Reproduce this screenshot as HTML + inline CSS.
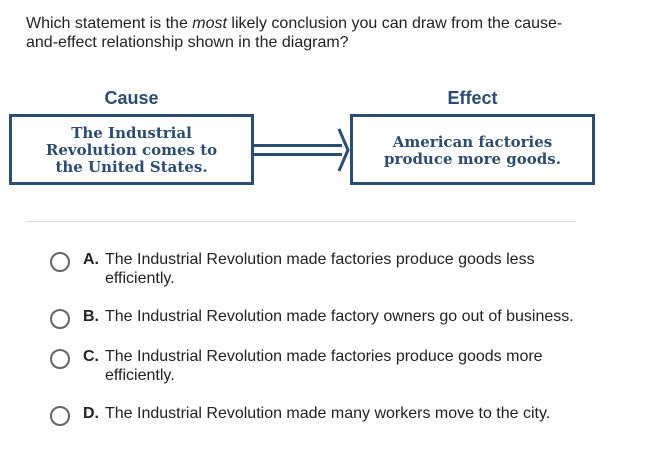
<!DOCTYPE html>
<html><head><style>
body{margin:0;width:653px;height:460px;background:#fff;position:relative;font-family:"Liberation Sans",sans-serif;color:#222;overflow:hidden}
.a{position:absolute;white-space:nowrap}
.q{font-size:16px;line-height:19px;left:26px;top:14px}
.h{font-size:18px;color:#2c4c73;font-weight:bold;text-align:center}
.box{position:absolute;border:3px solid #2c4c73;box-sizing:border-box;display:flex;align-items:center;justify-content:center;text-align:center;font-family:"DejaVu Serif","Liberation Serif",serif;font-weight:bold;color:#2c4c73;font-size:15px;line-height:17px;padding-top:2px}
.opt{font-size:16px;line-height:19px;left:83px}
.opt b{display:inline-block;width:22px}
.rad{position:absolute;left:50px;width:16px;height:16px;border:2px solid #666;border-radius:50%}
</style></head><body>
<div class="a q">Which statement is the <i>most</i> likely conclusion you can draw from the cause-<br>and-effect relationship shown in the diagram?</div>
<div class="a h" style="left:10px;width:243px;top:88px">Cause</div>
<div class="a h" style="left:351px;width:243px;top:88px">Effect</div>
<div class="box" style="left:9px;top:114px;width:245px;height:71px">The Industrial<br>Revolution comes to<br>the United States.</div>
<div class="box" style="left:350px;top:114px;width:245px;height:71px">American factories<br>produce more goods.</div>
<svg class="a" style="left:250px;top:124px" width="104" height="54">
<line x1="3" y1="21.5" x2="92" y2="21.5" stroke="#2c4c73" stroke-width="3"/>
<line x1="3" y1="30.5" x2="92" y2="30.5" stroke="#2c4c73" stroke-width="3"/>
<polyline points="89,5 98,26 89,47" fill="none" stroke="#2c4c73" stroke-width="3"/>
</svg>
<div class="a" style="left:26px;top:221px;width:550px;height:1px;background:#ddd"></div>
<div class="rad" style="top:252px"></div>
<div class="a opt" style="top:250px"><b>A.</b>The Industrial Revolution made factories produce goods less<br><span style="padding-left:22px">efficiently.</span></div>
<div class="rad" style="top:309px"></div>
<div class="a opt" style="top:307px"><b>B.</b>The Industrial Revolution made factory owners go out of business.</div>
<div class="rad" style="top:349px"></div>
<div class="a opt" style="top:347px"><b>C.</b>The Industrial Revolution made factories produce goods more<br><span style="padding-left:22px">efficiently.</span></div>
<div class="rad" style="top:406px"></div>
<div class="a opt" style="top:404px"><b>D.</b>The Industrial Revolution made many workers move to the city.</div>
</body></html>
